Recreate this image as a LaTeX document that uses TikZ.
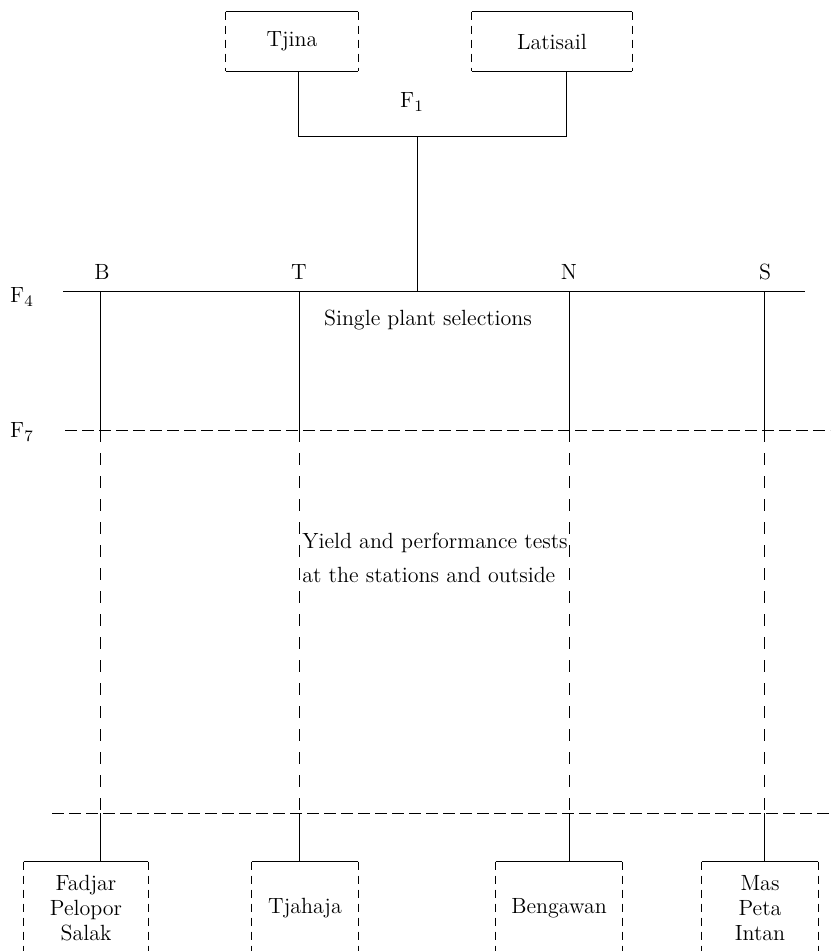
\documentclass[tikz,border=0pt]{standalone}
\usepackage{fontspec}
\begin{document}
\begin{tikzpicture}[x=0.5pt,y=-0.5pt,
  font=\fontsize{11}{12.5}\selectfont,
  solidline/.style={line width=0.5pt},
  hdash/.style={line width=0.5pt, dash pattern=on 6pt off 2.5pt},
  vdash/.style={line width=0.5pt, dash pattern=on 6pt off 5.5pt},
  sidedash/.style={line width=0.5pt, dash pattern=on 4pt off 3pt},
  boxnode/.style={inner sep=0pt, align=center},
  lbl/.style={inner sep=0pt}]
\useasboundingbox (0,0) rectangle (830,951);
\clip (0,0) rectangle (830,951);

% top boxes
\node[boxnode, minimum width=66pt, minimum height=29.5pt] (tjina) at (292,41.5) {Tjina};
\node[boxnode, minimum width=80pt, minimum height=29.5pt] (latisail) at (552,41.5) {Latisail};
\foreach \b in {tjina,latisail}{
  \draw[solidline] (\b.north west) -- (\b.north east);
  \draw[solidline] (\b.south west) -- (\b.south east);
  \draw[sidedash] (\b.north west) -- (\b.south west);
  \draw[sidedash] (\b.north east) -- (\b.south east);
}
\node[lbl] (f1) at (412,102) {F$_1$};

% F1 junction
\coordinate (jl) at (298,137);
\coordinate (jr) at (566,137);
\coordinate (jc) at (417,137);
\draw[solidline] (tjina.south -| jl) -- (jl) -- (jr) -- (latisail.south -| jr);

% F4 line
\coordinate (f4l) at (63,292);
\coordinate (f4r) at (805,292);
\draw[solidline] (f4l) -- (f4r);
\draw[solidline] (jc) -- (jc |- f4l);
\node[lbl] (f4) at (22,297) {F$_4$};

% F7 line and lower line
\coordinate (f7l) at (65,430);
\coordinate (f7r) at (832,430);
\draw[hdash] (f7l) -- (f7r);
\node[lbl] (f7) at (22,432) {F$_7$};
\coordinate (lowl) at (52,813);
\coordinate (lowr) at (832,813);
\draw[hdash] (lowl) -- (lowr);

% lineage labels
\node[lbl] (lB) at (102,272) {B};
\node[lbl] (lT) at (299,272) {T};
\node[lbl] (lN) at (569,272) {N};
\node[lbl] (lS) at (765,272) {S};

% texts
\node[lbl] (single) at (428,320) {Single plant selections};
\node[lbl, anchor=west] (yield) at (302,543) {Yield and performance tests};
\node[lbl, anchor=west] (stations) at (302,575) {at the stations and outside};

% bottom boxes
\node[boxnode, minimum width=62pt, minimum height=46pt] (fadjar) at (86,908) {Fadjar\\Pelopor\\Salak};
\node[boxnode, minimum width=53pt, minimum height=46pt] (tjahaja) at (305,908) {Tjahaja};
\node[boxnode, minimum width=63pt, minimum height=46pt] (bengawan) at (559,908) {Bengawan};
\node[boxnode, minimum width=58pt, minimum height=46pt] (mas) at (760,908) {Mas\\Peta\\Intan};
\foreach \b in {fadjar,tjahaja,bengawan,mas}{
  \draw[solidline] (\b.north west) -- (\b.north east);
  \draw[sidedash] (\b.north west) -- (\b.south west);
  \draw[sidedash] (\b.north east) -- (\b.south east);
}

% lineage verticals
\foreach \x/\b in {100/fadjar,299/tjahaja,569/bengawan,764/mas}{
  \coordinate (top\b) at (\x,292);
  \coordinate (mid\b) at (\x,430);
  \coordinate (low\b) at (\x,813);
  \draw[solidline] (top\b) -- (mid\b);
  \draw[vdash] (mid\b) -- (low\b);
  \draw[solidline] (low\b) -- (\b.north -| low\b);
}
\end{tikzpicture}
\end{document}
